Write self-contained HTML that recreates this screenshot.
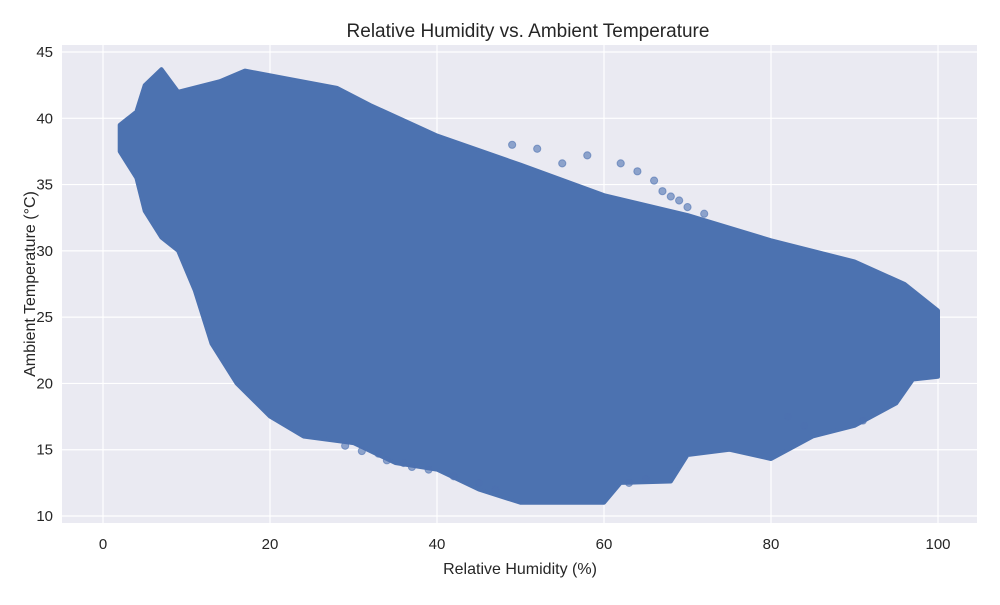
<!DOCTYPE html>
<html><head><meta charset="utf-8"><style>
body{margin:0;background:#fff;font-family:"Liberation Sans",sans-serif;}
svg text{font-family:"Liberation Sans",sans-serif;fill:#262626;}
</style></head><body>
<svg id="chart" width="1000" height="600">
<rect x="62" y="45" width="915" height="478" fill="#eaeaf2"/>
<g id="grid"></g><g id="marks"></g><g id="axes"></g>
<text x="528" y="37" text-anchor="middle" font-size="19">Relative Humidity vs. Ambient Temperature</text>
<text x="520" y="574" text-anchor="middle" font-size="16">Relative Humidity (%)</text>
<text x="35" y="284" text-anchor="middle" font-size="16" transform="rotate(-90 35 284)">Ambient Temperature (°C)</text>
</svg>
<script>
const xTicks=[0,20,40,60,80,100];
const yTicks=[10,15,20,25,30,35,40,45];
const upperHum=[2,4,5,7,9,14,17,22,28,32,40,50,60,70,80,90,96,100];
const upperTemp=[39.5,40.5,42.5,43.7,42,42.8,43.6,43,42.3,41,38.7,36.5,34.2,32.7,30.8,29.2,27.5,25.5];
const lowerHum=[100,97,95,90,85,80,75,70,68,62,60,50,45,40,35,30,24,20,16,13,11,9,7,5,4,2];
const lowerTemp=[20.5,20.3,18.5,16.8,16,14.3,15,14.6,12.6,12.5,11,11,12,13.5,14,15.5,16,17.5,20,23,27,30,31,33,35.5,37.5];
const outHum=[49,52,55,58,62,64,66,67,68,69,70,72,29,31,33,34,36,37,39,42,45,47,63,65,82,84,91];
const outTemp=[38,37.7,36.6,37.2,36.6,36,35.3,34.5,34.1,33.8,33.3,32.8,15.3,14.9,14.7,14.2,14.0,13.7,13.5,13,12.5,12,12.5,12.8,17.5,16.8,17.2];
const X=v=>103+v*8.35, Y=v=>516-(v-10)*13.257;
const ns="http://www.w3.org/2000/svg";
const g=document.getElementById('grid'),m=document.getElementById('marks'),a=document.getElementById('axes');
xTicks.forEach(t=>{
 const l=document.createElementNS(ns,'line');l.setAttribute('x1',X(t));l.setAttribute('x2',X(t));l.setAttribute('y1',45);l.setAttribute('y2',523);l.setAttribute('stroke','#fff');l.setAttribute('stroke-width',1.2);
 
 g.appendChild(l);
 const tx=document.createElementNS(ns,'text');tx.setAttribute('x',X(t));tx.setAttribute('y',549);tx.setAttribute('text-anchor','middle');tx.setAttribute('font-size',15);tx.textContent=t;
 
 a.appendChild(tx);
});
yTicks.forEach(t=>{
 const l=document.createElementNS(ns,'line');l.setAttribute('y1',Y(t));l.setAttribute('y2',Y(t));l.setAttribute('x1',62);l.setAttribute('x2',977);l.setAttribute('stroke','#fff');l.setAttribute('stroke-width',1.2);
 
 g.appendChild(l);
 const tx=document.createElementNS(ns,'text');tx.setAttribute('x',53);tx.setAttribute('y',Y(t)+5);tx.setAttribute('text-anchor','end');tx.setAttribute('font-size',15);tx.textContent=t;
 
 a.appendChild(tx);
});
let pts=[];
upperHum.forEach((h,i)=>pts.push(X(h)+','+Y(upperTemp[i])));
lowerHum.forEach((h,i)=>pts.push(X(h)+','+Y(lowerTemp[i])));
const p=document.createElementNS(ns,'polygon');p.setAttribute('points',pts.join(' '));p.setAttribute('fill','#4c72b0');p.setAttribute('stroke','#4c72b0');p.setAttribute('stroke-width',4);p.setAttribute('stroke-linejoin','round');

m.appendChild(p);
outHum.forEach((h,i)=>{
 const c=document.createElementNS(ns,'circle');c.setAttribute('cx',X(h));c.setAttribute('cy',Y(outTemp[i]));c.setAttribute('r',3.6);c.setAttribute('fill','#4c72b0');c.setAttribute('fill-opacity',0.6);c.setAttribute('stroke','#4c72b0');c.setAttribute('stroke-opacity',0.6);
 
 m.appendChild(c);
});
</script>
</body></html>
